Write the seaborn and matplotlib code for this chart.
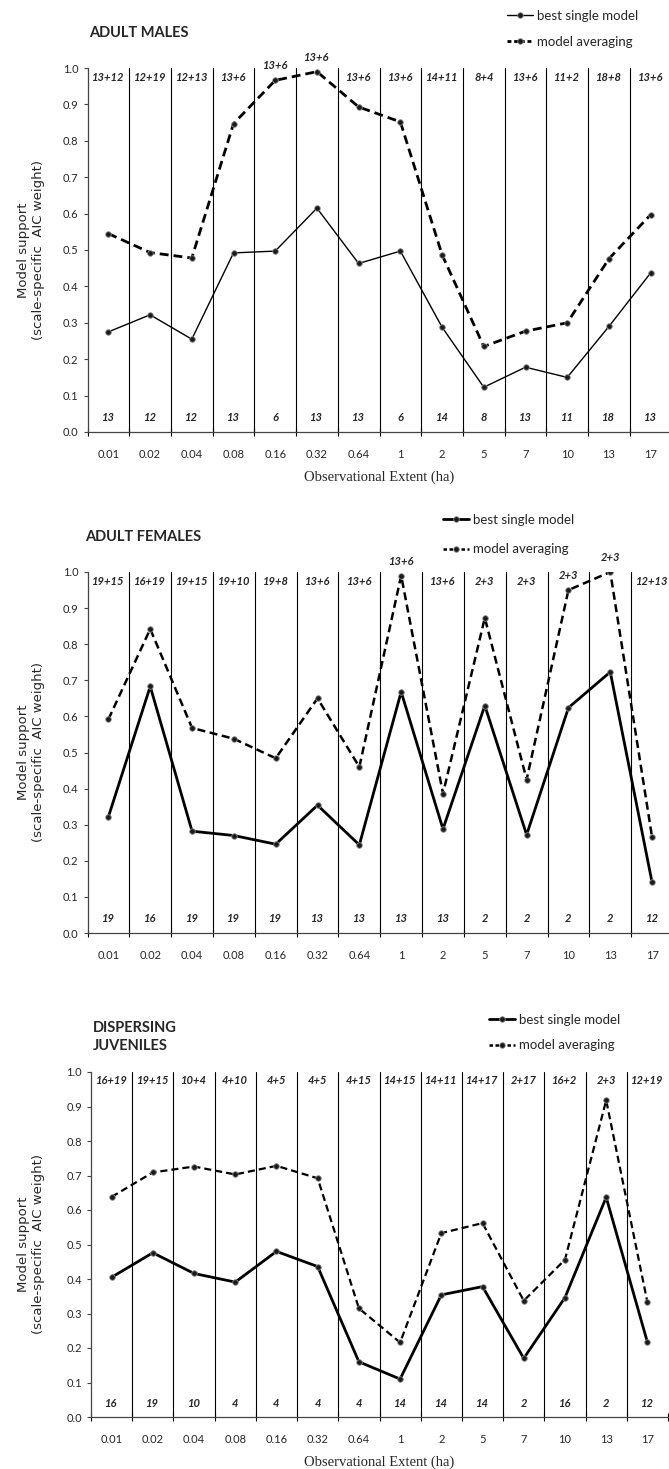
import matplotlib
matplotlib.use('Agg')
import matplotlib.pyplot as plt
from matplotlib.lines import Line2D
import numpy as np
import seaborn as sns

sns.set_theme(style='ticks')
plt.rcParams['font.family'] = ['Lato', 'DejaVu Sans']

# --- data ---
extent_labels = ["0.01", "0.02", "0.04", "0.08", "0.16", "0.32", "0.64",
                 "1", "2", "5", "7", "10", "13", "17"]

males_best = [0.275, 0.322, 0.255, 0.492, 0.497, 0.615, 0.463,
              0.497, 0.288, 0.123, 0.178, 0.150, 0.290, 0.437]
males_avg = [0.545, 0.493, 0.478, 0.847, 0.966, 0.990, 0.893,
             0.852, 0.487, 0.235, 0.277, 0.300, 0.476, 0.597]
males_top = ["13+12", "12+19", "12+13", "13+6", "13+6", "13+6", "13+6",
             "13+6", "14+11", "8+4", "13+6", "11+2", "18+8", "13+6"]
males_bottom = ["13", "12", "12", "13", "6", "13", "13",
                "6", "14", "8", "13", "11", "18", "13"]

females_best = [0.322, 0.683, 0.282, 0.270, 0.246, 0.354, 0.244,
                0.668, 0.288, 0.630, 0.272, 0.624, 0.723, 0.140]
females_avg = [0.592, 0.842, 0.568, 0.538, 0.484, 0.650, 0.460,
               0.990, 0.386, 0.873, 0.425, 0.950, 1.000, 0.265]
females_top = ["19+15", "16+19", "19+15", "19+10", "19+8", "13+6", "13+6",
               "13+6", "13+6", "2+3", "2+3", "2+3", "2+3", "12+13"]
females_bottom = ["19", "16", "19", "19", "19", "13", "13",
                  "13", "13", "2", "2", "2", "2", "12"]

juv_best = [0.405, 0.476, 0.416, 0.391, 0.480, 0.436, 0.160,
            0.110, 0.354, 0.378, 0.170, 0.346, 0.637, 0.217]
juv_avg = [0.638, 0.709, 0.726, 0.703, 0.728, 0.692, 0.315,
           0.216, 0.533, 0.562, 0.337, 0.456, 0.918, 0.333]
juv_top = ["16+19", "19+15", "10+4", "4+10", "4+5", "4+5", "4+15",
           "14+15", "14+11", "14+17", "2+17", "16+2", "2+3", "12+19"]
juv_bottom = ["16", "19", "10", "4", "4", "4", "4",
              "14", "14", "14", "2", "16", "2", "12"]

W, H = 669, 1469
fig = plt.figure(figsize=(W / 100, H / 100), dpi=100)

MK = dict(marker='o', markersize=4, markerfacecolor='#1a1a1a',
          markeredgecolor='#8a8a8a', markeredgewidth=0.6)


def px_axes(left, right, top, bottom):
    # caja en pixeles -> fraccion de figura
    return [left / W, 1 - bottom / H, (right - left) / W, (bottom - top) / H]


def draw_panel(box, best, avg, top, bottom, title, title_xy, leg_xy,
               lw_best, lw_avg, leg_spacing, xlabel=True):
    ax = fig.add_axes(px_axes(*box))
    x = np.arange(len(extent_labels))
    sns.lineplot(x=x, y=best, ax=ax, color='black', lw=lw_best, sort=False, **MK)
    sns.lineplot(x=x, y=avg, ax=ax, color='black', lw=lw_avg, sort=False,
                 linestyle=(0, (3.2, 1.8)), **MK)

    # separadores entre categorias
    for b in np.arange(0.5, len(x) - 0.5, 1):
        ax.axvline(b, ymin=0, ymax=1, color='black', lw=0.8, zorder=0)

    ax.set_xlim(-0.5, len(x) - 0.5)
    ax.set_ylim(0, 1)
    ax.set_yticks(np.arange(0, 1.01, 0.1))
    ax.set_yticklabels([f"{v:.1f}" for v in np.arange(0, 1.01, 0.1)])
    ax.set_xticks(x)
    ax.set_xticklabels(extent_labels)
    ax.set_xticks(np.arange(-0.5, len(x), 1), minor=True)
    ax.tick_params(axis='x', which='major', length=0, pad=12, labelsize=8)
    ax.tick_params(axis='x', which='minor', length=6, width=0.8, color='black',
                   direction='inout')
    ax.tick_params(axis='y', length=3, width=0.8, labelsize=8, color='#444444')
    for s in ['top', 'right']:
        ax.spines[s].set_visible(False)
    for s in ['left', 'bottom']:
        ax.spines[s].set_color('#444444')
        ax.spines[s].set_linewidth(0.9)

    for i, (t, b, a) in enumerate(zip(top, bottom, avg)):
        ty = a + 0.04 if a > 0.93 else 0.975
        ax.text(i, ty, t, ha='center', va='center', fontsize=8,
                fontweight='bold', fontstyle='italic', clip_on=False)
        ax.text(i, 0.04, b, ha='center', va='center', fontsize=8,
                fontweight='bold', fontstyle='italic')

    ax.set_ylabel("Model support\n(scale-specific  AIC weight)",
                  family='DejaVu Sans', fontsize=9.5, linespacing=1.2)
    ax.yaxis.set_label_coords((45 - box[0]) / (box[1] - box[0]), 0.5)
    if xlabel:
        ax.set_xlabel("Observational Extent (ha)", family='Liberation Serif',
                      fontsize=10.5, labelpad=8)
    else:
        ax.set_xlabel("")

    fig.text(title_xy[0] / W, 1 - title_xy[1] / H, title, fontsize=10.5,
             fontweight='bold', ha='left', va='center', linespacing=1.4)

    handles = [Line2D([], [], color='black', lw=lw_best, **MK),
               Line2D([], [], color='black', lw=max(lw_avg, 1.8),
                      linestyle=(0, (1.4, 1.0)), **MK)]
    ax.legend(handles, ['best single model', 'model averaging'],
              loc='upper left', bbox_to_anchor=(leg_xy[0] / W, 1 - leg_xy[1] / H),
              bbox_transform=fig.transFigure, frameon=False, fontsize=9.5,
              borderpad=0, borderaxespad=0, handlelength=2.0,
              handletextpad=0.3, labelspacing=leg_spacing)
    return ax


draw_panel((87.5, 671.5, 68, 432), males_best, males_avg, males_top, males_bottom,
           "ADULT MALES", (89, 33), (507, 10), 1.0, 2.0, 1.05)
draw_panel((87.5, 673, 572, 933), females_best, females_avg, females_top,
           females_bottom, "ADULT FEMALES", (85, 537), (443, 514), 2.0, 1.8, 1.3,
           xlabel=False)
draw_panel((91, 668, 1072, 1417), juv_best, juv_avg, juv_top, juv_bottom,
           "DISPERSING\nJUVENILES", (93, 1037), (489, 1014), 2.0, 1.6, 1.0)

fig.savefig("out.png", dpi=100)
